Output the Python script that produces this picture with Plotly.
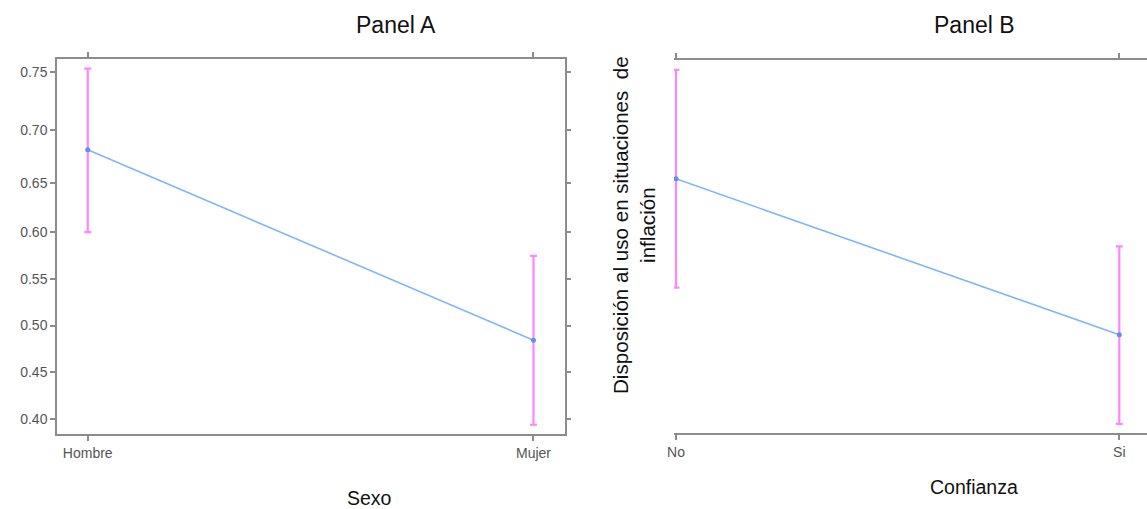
import numpy as np
import plotly.graph_objects as go

# ---- data (probabilities, plotted on a logit scale) ----
sexo_cats = ["Hombre", "Mujer"]
sexo_fit = [0.682, 0.484]
sexo_lower = [0.600, 0.394]
sexo_upper = [0.753, 0.575]

conf_cats = ["No", "Si"]
conf_fit = [0.654, 0.490]
conf_lower = [0.541, 0.395]
conf_upper = [0.752, 0.585]

y_ticks = [0.40, 0.45, 0.50, 0.55, 0.60, 0.65, 0.70, 0.75]
y_tick_text = ["0.40", "0.45", "0.50", "0.55", "0.60", "0.65", "0.70", "0.75"]


def logit(p):
    p = np.asarray(p, dtype=float)
    return np.log(p / (1 - p))


W, H = 1147, 509
BAR = "#ff85ff"
LINE = "#80b4ff"
PT = "#5f8ff0"
AX = "#8c8c8c"
FONT = "Liberation Sans, Arial, sans-serif"

fig = go.Figure()


def add_panel(cats, fit, lo, hi, xa, ya):
    xs = list(range(len(cats)))
    f = logit(fit)
    fig.add_trace(go.Scatter(
        x=xs, y=f, mode="markers", marker=dict(size=1, color="rgba(0,0,0,0)"),
        error_y=dict(type="data", symmetric=False,
                     array=logit(hi) - f, arrayminus=f - logit(lo),
                     color=BAR, thickness=2.2, width=3.5),
        xaxis=xa, yaxis=ya, showlegend=False, hoverinfo="skip"))
    fig.add_trace(go.Scatter(
        x=xs, y=f, mode="lines+markers",
        line=dict(color=LINE, width=1.6),
        marker=dict(size=5, color=PT),
        xaxis=xa, yaxis=ya, showlegend=False))


add_panel(sexo_cats, sexo_fit, sexo_lower, sexo_upper, "x", "y")
add_panel(conf_cats, conf_fit, conf_lower, conf_upper, "x2", "y2")

ylo, yhi = -0.4706, 1.1563
tick_font = dict(family=FONT, size=14, color="#555555")

fig.update_layout(
    width=W, height=H,
    margin=dict(l=0, r=0, t=0, b=0),
    paper_bgcolor="white", plot_bgcolor="white",
    xaxis=dict(domain=[57 / W, 564.5 / W], range=[-0.069, 1.0696],
               tickvals=[0, 1], ticktext=sexo_cats, showgrid=False, zeroline=False,
               showline=True, linecolor=AX, linewidth=1.5, mirror="ticks",
               ticks="outside", ticklen=5, tickcolor=AX, tickwidth=1.5,
               tickfont=tick_font, automargin=False),
    yaxis=dict(domain=[1 - 434 / H, 1 - 59 / H], range=[ylo, yhi],
               tickvals=logit(y_ticks), ticktext=y_tick_text, showgrid=False,
               zeroline=False, showline=True, linecolor=AX, linewidth=1.5,
               mirror="ticks", ticks="outside", ticklen=5, tickcolor=AX,
               tickwidth=1.5, tickfont=tick_font, automargin=False),
    xaxis2=dict(domain=[674 / W, 1.0], range=[-0.0045, 1.0625],
                tickvals=[0, 1], ticktext=conf_cats, showgrid=False, zeroline=False,
                showline=True, linecolor=AX, linewidth=1.5, mirror="ticks",
                ticks="outside", ticklen=5, tickcolor=AX, tickwidth=1.5,
                tickfont=tick_font, anchor="y2", automargin=False),
    yaxis2=dict(domain=[1 - 433 / H, 1 - 60 / H], range=[-0.4663, 1.152],
                showticklabels=False, showgrid=False, zeroline=False,
                showline=False, ticks="", anchor="x2", automargin=False),
)


def ann(text, px, py, size, angle=0):
    fig.add_annotation(text=text, x=px / W, y=1 - py / H, xref="paper", yref="paper",
                       showarrow=False, xanchor="center", yanchor="middle",
                       textangle=angle, font=dict(family=FONT, size=size, color="#111111"))


ann("Panel A", 396, 25, 23)
ann("Panel B", 974, 25, 23)
ann("Sexo", 369, 498, 19.5)
ann("Confianza", 974, 487, 19.5)
ann("Disposición al uso en situaciones  de<br>inflación", 634, 225, 20.6, angle=-90)

fig.write_html("out.html")
